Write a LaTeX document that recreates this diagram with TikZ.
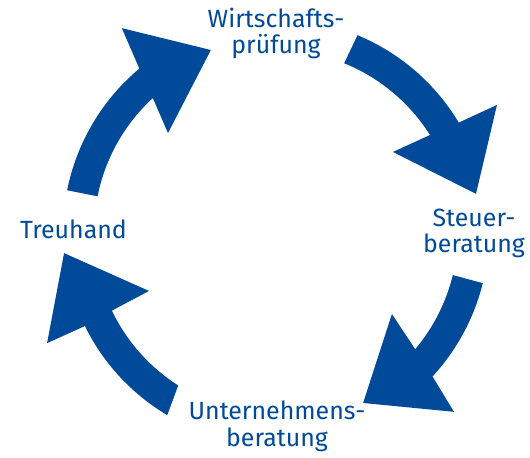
\documentclass[tikz,border=0pt]{standalone}
\usepackage{fontspec}
\setmainfont{Fira Sans}
\definecolor{cycleblue}{RGB}{0,74,153}
\begin{document}
\begin{tikzpicture}[x=1bp, y=1bp, line join=miter,
    arrowfill/.style={fill=cycleblue},
    lbl/.style={text=cycleblue, align=center, inner sep=0pt, anchor=base,
        font=\fontsize{25}{27}\selectfont}]
    % radii of the ring
    \def\rin{182} \def\rout{213}
    \useasboundingbox (-276,-226) rectangle (254,232);
    % four bent arrows: tail out/tail in/notch out/notch in/outer corner/tip/inner corner
    \foreach \to/\ti/\no/\ni/\co/\tp/\ci in {
        168.7/168.7/129.9/132.6/{(127.1:255.6)}/{(109.7:193.3)}/{(137.5:146.5)},
        67.5/68.0/30.9/32.2/{(29.9:254.9)}/{(10.8:203.6)}/{(34.4:141.7)},
        -13.9/-13.7/-42.7/-40.1/{(-45.3:253)}/{(-63:191.9)}/{(-35.3:142)},
        239.3/237.5/206.2/205.6/{(205.9:254.5)}/{(185.7:213)}/{(204.9:140)}}
    \fill[arrowfill] (\to:\rout) arc[start angle=\to, end angle=\no, radius=\rout]
        -- \co -- \tp -- \ci -- (\ni:\rin)
        arc[start angle=\ni, end angle=\ti, radius=\rin] -- cycle;
    % labels (base = last line)
    \node[lbl] (wp) at (0,178) {Wirtschafts-\\prüfung};
    \node[lbl] (stb) at (198,-21) {Steuer-\\beratung};
    \node[lbl] (ub) at (1,-214) {Unternehmens-\\beratung};
    \node[lbl] (th) at (-202.5,-7) {Treuhand};
\end{tikzpicture}
\end{document}
